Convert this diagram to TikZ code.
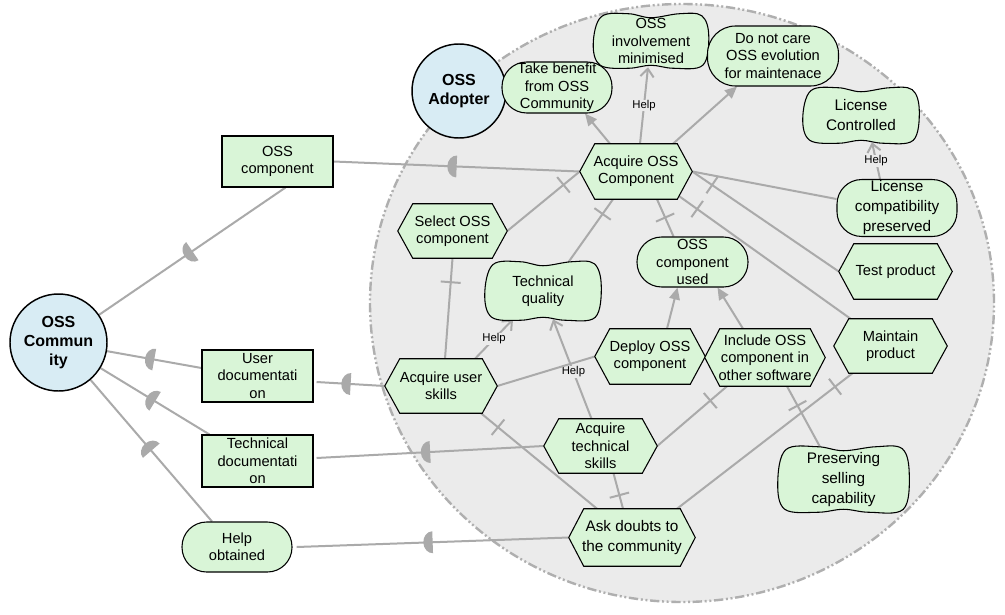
\documentclass[tikz,border=0pt]{standalone}
\usepackage{fontspec}
\setmainfont{Liberation Sans}
\usetikzlibrary{calc,arrows.meta,decorations.markings}
\pgfdeclarelayer{bgl}
\pgfdeclarelayer{linkl}
\pgfdeclarelayer{shapel}
\pgfsetlayers{bgl,linkl,shapel,main}
\definecolor{ngreen}{RGB}{217,245,215}
\definecolor{nblue}{RGB}{216,236,244}
\definecolor{bggray}{RGB}{235,235,235}
\definecolor{lgray}{RGB}{170,170,170}
\definecolor{bdgray}{RGB}{175,175,175}
\newcommand\mynfont{\fontsize{11}{13}\selectfont}
\newcommand\mywfont{\fontsize{11.5}{15}\selectfont}
\tikzset{
 base/.style={align=center, inner sep=1pt, font=\mynfont},
 taskn/.style={base},
 sgn/.style={base},
 shapebd/.style={fill=ngreen, draw=black, line width=0.8pt},
 resn/.style={base, rectangle, fill=ngreen, draw=black, line width=0.8pt},
 goaln/.style={base, rectangle, rounded corners=18.5pt, fill=ngreen, draw=black, line width=0.8pt},
 actorn/.style={circle, fill=nblue, draw=black, line width=1.1pt, align=center, font=\fontsize{12}{14.5}\selectfont\bfseries, inner sep=0pt},
 lnk/.style={draw=lgray, line width=1.5pt},
 depl/.style={lnk, postaction={decorate}, decoration={markings, mark=at position 0.5 with {\fill[lgray] (0pt,-8.25pt) arc[start angle=-90, end angle=90, x radius=7pt, y radius=8.25pt] -- cycle;}}},
 decl/.style={lnk, postaction={decorate}, decoration={markings, mark=at position #1 with {\draw[lgray, line width=1.5pt] (0pt,-7.5pt) -- (0pt,7.5pt);}}},
 meansend/.style={lnk, -{Triangle[length=9pt, width=8pt]}},
 helpl/.style={lnk, -{Straight Barb[length=6pt, width=10pt]}},
 helplbl/.style={font=\fontsize{8.5}{10}\selectfont, fill=bggray, inner sep=0.5pt, text=black},
}
\newcommand\hexify[1]{%
\begin{pgfonlayer}{shapel}
\filldraw[shapebd] (#1.west) -- ($(#1.north west)+(15,0)$) -- ($(#1.north east)+(-15,0)$) -- (#1.east) -- ($(#1.south east)+(-15,0)$) -- ($(#1.south west)+(15,0)$) -- cycle;
\end{pgfonlayer}}
\newcommand\cloudify[1]{%
\begin{pgfonlayer}{shapel}
\filldraw[shapebd] plot[smooth cycle, tension=0.6] coordinates {
 ($(#1.north west)+(7,2)$)
 ($(#1.north west)!0.3!(#1.north east)+(0,-1)$)
 ($(#1.north)+(0,3)$)
 ($(#1.north west)!0.75!(#1.north east)+(0,-1)$)
 ($(#1.north east)+(-6,1)$)
 ($(#1.east)+(1,-5)$)
 ($(#1.south east)+(-5,-2)$)
 ($(#1.south west)!0.7!(#1.south east)+(0,1)$)
 ($(#1.south)+(0,-2)$)
 ($(#1.south west)!0.3!(#1.south east)+(0,1)$)
 ($(#1.south west)+(6,-2)$)
 ($(#1.west)+(-1,3)$)
};
\end{pgfonlayer}}
\begin{document}
\begin{tikzpicture}[x=0.75pt, y=-0.75pt]
\useasboundingbox (0,0) rectangle (1005,614);
\begin{pgfonlayer}{bgl}
\fill[white] (0,0) rectangle (1005,614);
\draw[fill=bggray, draw=bdgray, line width=1.8pt, dash pattern=on 7pt off 2pt on 1.5pt off 2pt on 1.5pt off 2pt] (682,303) ellipse [x radius=234pt, y radius=224.25pt];
\end{pgfonlayer}
% actors
\node[actorn, minimum size=70.5pt] (adopter) at (459,91) {OSS\\Adopter};
\node[actorn, minimum size=72.75pt] (comm) at (58.5,342.5) {OSS\\Commun\\ity};
% resources
\node[resn, minimum width=83.25pt, minimum height=38.25pt] (res1) at (277.5,161.5) {OSS\\component};
\node[resn, minimum width=83.25pt, minimum height=39pt] (res2) at (257.5,376) {User\\documentati\\on};
\node[resn, minimum width=83.25pt, minimum height=39pt] (res3) at (257.5,461) {Technical\\documentati\\on};
% goals
\node[goaln, minimum width=82.5pt, minimum height=37.5pt] (g1) at (237,547) {Help\\obtained};
\node[goaln, minimum width=82.5pt, minimum height=38.25pt] (g2) at (557,87.5) {Take benefit\\from OSS\\Community};
\node[goaln, rounded corners=21pt, minimum width=98.25pt, minimum height=45pt] (g3) at (773,56) {Do not care\\OSS evolution\\for maintenace};
\node[goaln, font=\mywfont, minimum width=90pt, minimum height=39pt] (g4) at (897,208) {License\\compatibility\\preserved};
\node[goaln, minimum width=83.25pt, minimum height=37.5pt] (g5) at (692.5,262) {OSS\\component\\used};
% softgoals
\node[sgn, minimum width=84.75pt, minimum height=39pt] (s1) at (651,41) {OSS\\involvement\\minimised};
\cloudify{s1}
\node[sgn, font=\mywfont, minimum width=85.5pt, minimum height=39.75pt] (s2) at (861,115.5) {License\\Controlled};
\cloudify{s2}
\node[sgn, minimum width=85.5pt, minimum height=42pt] (s3) at (543,291) {Technical\\quality};
\cloudify{s3}
\node[sgn, font=\mywfont, minimum width=96.75pt, minimum height=47.25pt] (s4) at (843.5,479.5) {Preserving\\selling\\capability};
\cloudify{s4}
% tasks
\node[taskn, minimum width=84pt, minimum height=41.25pt] (t1) at (636,171.5) {Acquire OSS\\Component};
\hexify{t1}
\node[taskn, minimum width=81.75pt, minimum height=40.5pt] (t2) at (452.5,231) {Select OSS\\component};
\hexify{t2}
\node[taskn, minimum width=84pt, minimum height=40.5pt] (t3) at (441,386) {Acquire user\\skills};
\hexify{t3}
\node[taskn, minimum width=82.5pt, minimum height=41.25pt] (t4) at (650,356.5) {Deploy OSS\\component};
\hexify{t4}
\node[taskn, minimum width=90pt, minimum height=42.75pt] (t5) at (765,357.5) {Include OSS\\component in\\other software};
\hexify{t5}
\node[taskn, minimum width=84.75pt, minimum height=41.25pt] (t6) at (895.5,271.5) {Test product};
\hexify{t6}
\node[taskn, minimum width=84.75pt, minimum height=40.5pt] (t7) at (890.5,346) {Maintain\\product};
\hexify{t7}
\node[taskn, minimum width=84.75pt, minimum height=40.5pt] (t8) at (600.5,446) {Acquire\\technical\\skills};
\hexify{t8}
\node[taskn, font=\mywfont, minimum width=94.5pt, minimum height=42.75pt] (t9) at (632,537.5) {Ask doubts to\\the community};
\hexify{t9}
% links
\begin{pgfonlayer}{linkl}
% dependencies
\draw[depl] (t1.west) -- (res1.east);
\draw[depl] ($(res1.south)+(8,0)$) -- (comm);
\draw[depl] (t3.west) -- ($(res2.east)+(3,6)$);
\draw[depl] ($(res2.west)+(0,-8)$) -- (comm);
\draw[depl] (t8.west) -- ($(res3.east)+(3,-3)$);
\draw[depl] ($(res3.north west)+(8,0)$) -- (comm);
\draw[depl] (t9.west) -- ($(g1.east)+(4,0)$);
\draw[depl] ($(g1.north)+(-25,0)$) -- (comm);
% means-end
\draw[meansend] ($(t1.north)+(-26,0)$) -- ($(g2.south)+(28,0)$);
\draw[meansend] ($(t1.north)+(37,0)$) -- ($(g3.south)+(-36,0)$);
\draw[meansend] ($(t4.north)+(17,0)$) -- ($(g5.south)+(-15,0)$);
\draw[meansend] ($(t5.north)+(-22,0)$) -- ($(g5.south)+(25,0)$);
% contributions
\draw[helpl] ($(t1.north)+(4,0)$) -- node[helplbl, pos=0.5] {Help} ($(s1.south)+(-3,0)$);
\draw[helpl] ($(t3.north)+(34,0)$) -- node[helplbl, pos=0.5] {Help} ($(s3.south)+(-30,0)$);
\draw[helpl] ($(t8.north)+(-9,0)$) -- node[helplbl, pos=0.47] {Help} ($(s3.south)+(10,0)$);
\draw[helpl] ($(g4.north)+(-17,0)$) -- node[helplbl, pos=0.5] {Help} ($(s2.south)+(11,0)$);
% decompositions
\draw[decl=15.75pt] (t1.west) -- (t2.east);
\draw[decl=13.5pt] ($(t1.south)+(-23,0)$) -- ($(s3.north)+(25,0)$);
\draw[decl=15pt] ($(t1.south)+(21,0)$) -- ($(g5.north)+(-19,0)$);
\draw[decl=16.5pt] ($(t1.south east)+(-13,-3)$) -- ($(t7.north)+(-40,0)$);
\draw[lnk] (t1.east) -- ($(g4.west)+(0,-9)$);
\draw[decl=18pt] (t1.east) -- (t6.west);
\draw[decl=18pt] (t2.south) -- ($(t3.north)+(4,0)$);
\draw[lnk] (t3.east) -- (t4.west);
\draw[decl=16.5pt] ($(t5.south)+(-38,0)$) -- (t8.east);
\draw[decl=16.5pt] ($(t5.south)+(22,0)$) -- ($(s4.north)+(-23,0)$);
\draw[decl=16.5pt] ($(t7.south)+(-38,0)$) -- ($(t9.north)+(45,0)$);
\draw[decl=16.5pt] ($(t3.south)+(40,0)$) -- ($(t9.north)+(-35,0)$);
\draw[decl=17pt] ($(t8.south)+(13,0)$) -- ($(t9.north)+(-9,0)$);
\end{pgfonlayer}
\end{tikzpicture}
\end{document}
